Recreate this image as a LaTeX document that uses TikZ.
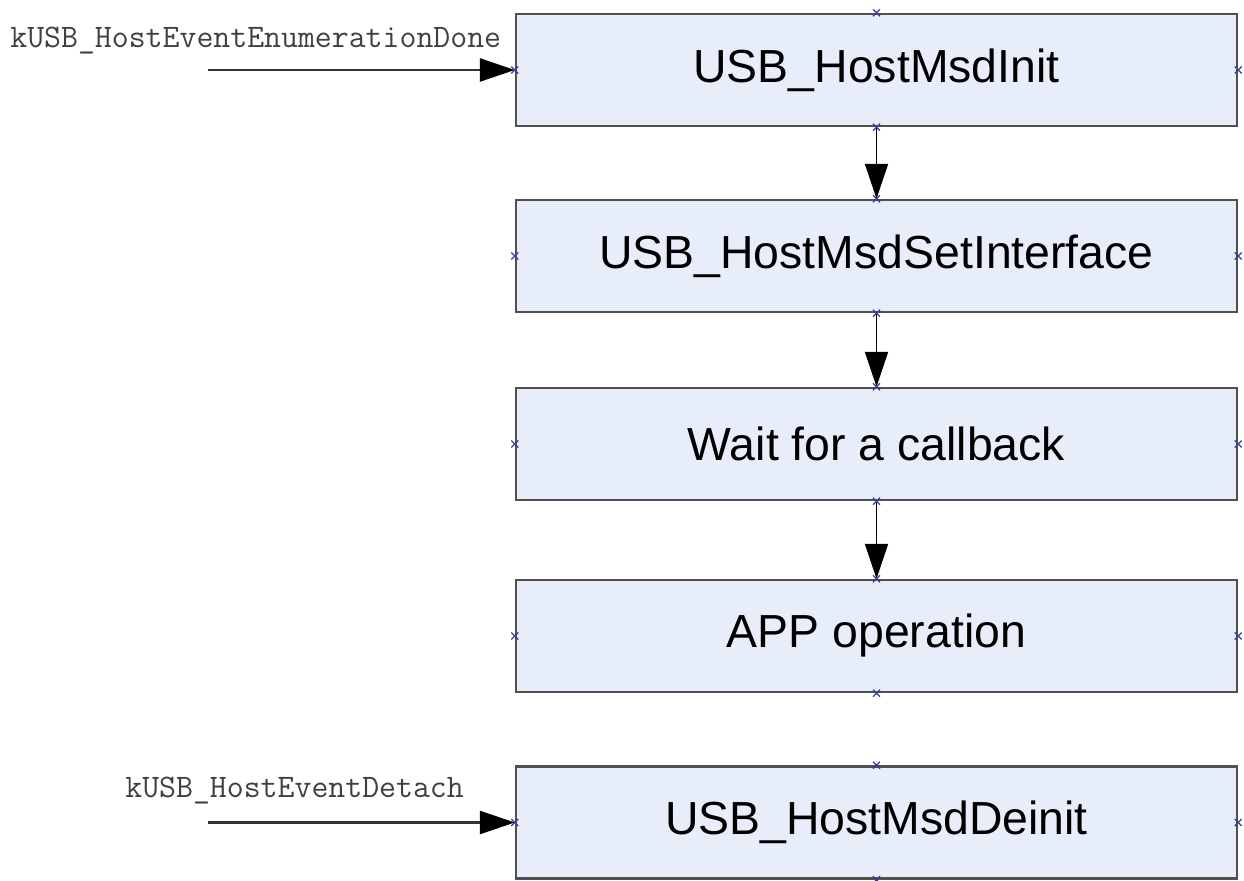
\documentclass[tikz,border=0pt]{standalone}
\usepackage{fontspec}
\setmainfont{Liberation Sans}
\usepackage{tikz}
\usetikzlibrary{arrows.meta}

\definecolor{boxfill}{RGB}{232,238,249}
\definecolor{boxline}{RGB}{80,80,80}
\definecolor{cptblue}{RGB}{60,60,150}

\begin{document}
\begin{tikzpicture}[every node/.style={font=\fontsize{26.4}{31}\selectfont},
	>={Triangle[length=7mm,width=4.6mm]},
	stepbox/.style={draw=boxline, line width=1.4pt, fill=boxfill, minimum width=14.42cm, minimum height=2.24cm, inner sep=0pt},
	evlabel/.style={font=\ttfamily\fontsize{18.7}{22}\selectfont, text=black!75, anchor=west, inner sep=0pt},
	flow/.style={->, line width=1.1pt},
	evflow/.style={-{Triangle[length=7mm,width=4.6mm,black]}, line width=1.5pt, draw=black!80}]
	\useasboundingbox (0,0) rectangle (24.88,17.6);
	\node[stepbox] (init) at (17.53,16.2) {USB\_HostMsdInit};
	\node[stepbox] (setif) at (17.53,12.48) {USB\_HostMsdSetInterface};
	\node[stepbox] (wait) at (17.53,8.72) {Wait for a callback};
	\node[stepbox] (app) at (17.53,4.88) {APP operation};
	\node[stepbox] (deinit) at (17.53,1.15) {USB\_HostMsdDeinit};
	\node[evlabel] (enumdone) at (0.2,16.78) {kUSB\_HostEventEnumerationDone};
	\node[evlabel] (detach) at (2.5,1.78) {kUSB\_HostEventDetach};
	\coordinate (enumstart) at (4.16,16.2);
	\coordinate (detstart) at (4.16,1.15);
	\draw[evflow] (enumstart) -- (init.west);
	\draw[evflow] (detstart) -- (deinit.west);
	\draw[flow] (init) -- (setif);
	\draw[flow] (setif) -- (wait);
	\draw[flow] (wait) -- (app);
	% connection points
	\foreach \b in {init,setif,wait,app,deinit}
		\foreach \a in {north,south,east,west}
			\draw[cptblue, line width=0.7pt] ([shift={(-0.07,-0.07)}]\b.\a) -- ++(0.14,0.14)
				([shift={(-0.07,0.07)}]\b.\a) -- ++(0.14,-0.14);
\end{tikzpicture}
\end{document}
